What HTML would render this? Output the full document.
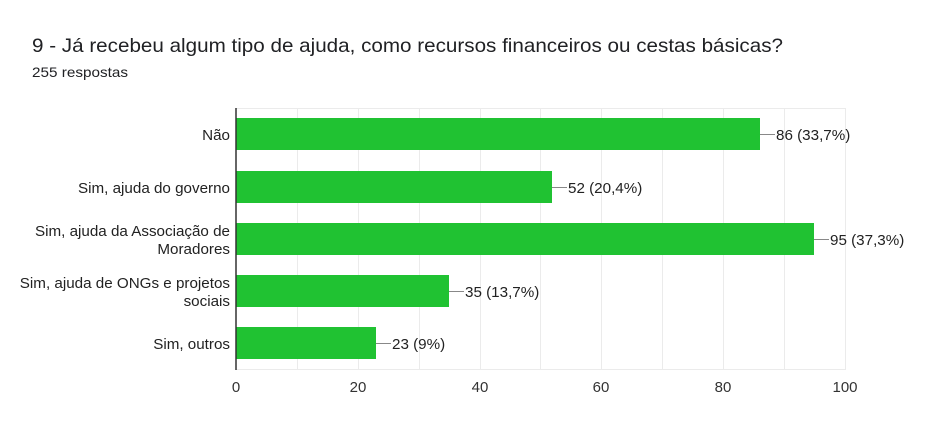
<!DOCTYPE html>
<html><head><meta charset="utf-8"><style>
body{margin:0;background:#fff;}
svg{display:block;font-family:"Liberation Sans",Arial,sans-serif;}
</style></head><body>
<svg width="939" height="445" viewBox="0 0 939 445">
<rect width="939" height="445" fill="#fff"/>
<text x="32" y="52" font-size="19.5" fill="#202124" textLength="751" lengthAdjust="spacingAndGlyphs">9 - Já recebeu algum tipo de ajuda, como recursos financeiros ou cestas básicas?</text>
<text x="32" y="77" font-size="14" fill="#202124" textLength="96" lengthAdjust="spacingAndGlyphs">255 respostas</text>
<g stroke="#ebebeb" stroke-width="1">
<line x1="236" y1="108.5" x2="845" y2="108.5"/>
<line x1="236" y1="369.5" x2="845" y2="369.5"/>
<line x1="297.5" y1="108" x2="297.5" y2="370"/>
<line x1="358.5" y1="108" x2="358.5" y2="370"/>
<line x1="419.5" y1="108" x2="419.5" y2="370"/>
<line x1="480.5" y1="108" x2="480.5" y2="370"/>
<line x1="540.5" y1="108" x2="540.5" y2="370"/>
<line x1="601.5" y1="108" x2="601.5" y2="370"/>
<line x1="662.5" y1="108" x2="662.5" y2="370"/>
<line x1="723.5" y1="108" x2="723.5" y2="370"/>
<line x1="784.5" y1="108" x2="784.5" y2="370"/>
<line x1="845.5" y1="108" x2="845.5" y2="370"/>
</g>
<g fill="#20c232">
<rect x="236" y="118" width="524" height="32"/>
<rect x="236" y="171" width="316" height="32"/>
<rect x="236" y="223" width="578" height="32"/>
<rect x="236" y="275" width="213" height="32"/>
<rect x="236" y="327" width="140" height="32"/>
</g>
<line x1="236" y1="108" x2="236" y2="370" stroke="#333" stroke-width="1.5"/>
<g stroke="#888" stroke-width="1">
<line x1="760" y1="134.5" x2="775" y2="134.5"/>
<line x1="552" y1="187.5" x2="567" y2="187.5"/>
<line x1="814" y1="239.5" x2="829" y2="239.5"/>
<line x1="449" y1="291.5" x2="464" y2="291.5"/>
<line x1="376" y1="343.5" x2="391" y2="343.5"/>
</g>
<g font-size="15.2" fill="#222">
<text x="776" y="140">86 (33,7%)</text>
<text x="568" y="193">52 (20,4%)</text>
<text x="830" y="245">95 (37,3%)</text>
<text x="465" y="297">35 (13,7%)</text>
<text x="392" y="349">23 (9%)</text>
</g>
<g font-size="15.2" fill="#222" text-anchor="end">
<text x="230" y="140">Não</text>
<text x="230" y="193">Sim, ajuda do governo</text>
<text x="230" y="236">Sim, ajuda da Associação de</text>
<text x="230" y="254">Moradores</text>
<text x="230" y="288">Sim, ajuda de ONGs e projetos</text>
<text x="230" y="306">sociais</text>
<text x="230" y="349">Sim, outros</text>
</g>
<g font-size="15" fill="#333" text-anchor="middle">
<text x="236" y="392">0</text>
<text x="358" y="392">20</text>
<text x="480" y="392">40</text>
<text x="601" y="392">60</text>
<text x="723" y="392">80</text>
<text x="845" y="392">100</text>
</g>
</svg>
</body></html>
